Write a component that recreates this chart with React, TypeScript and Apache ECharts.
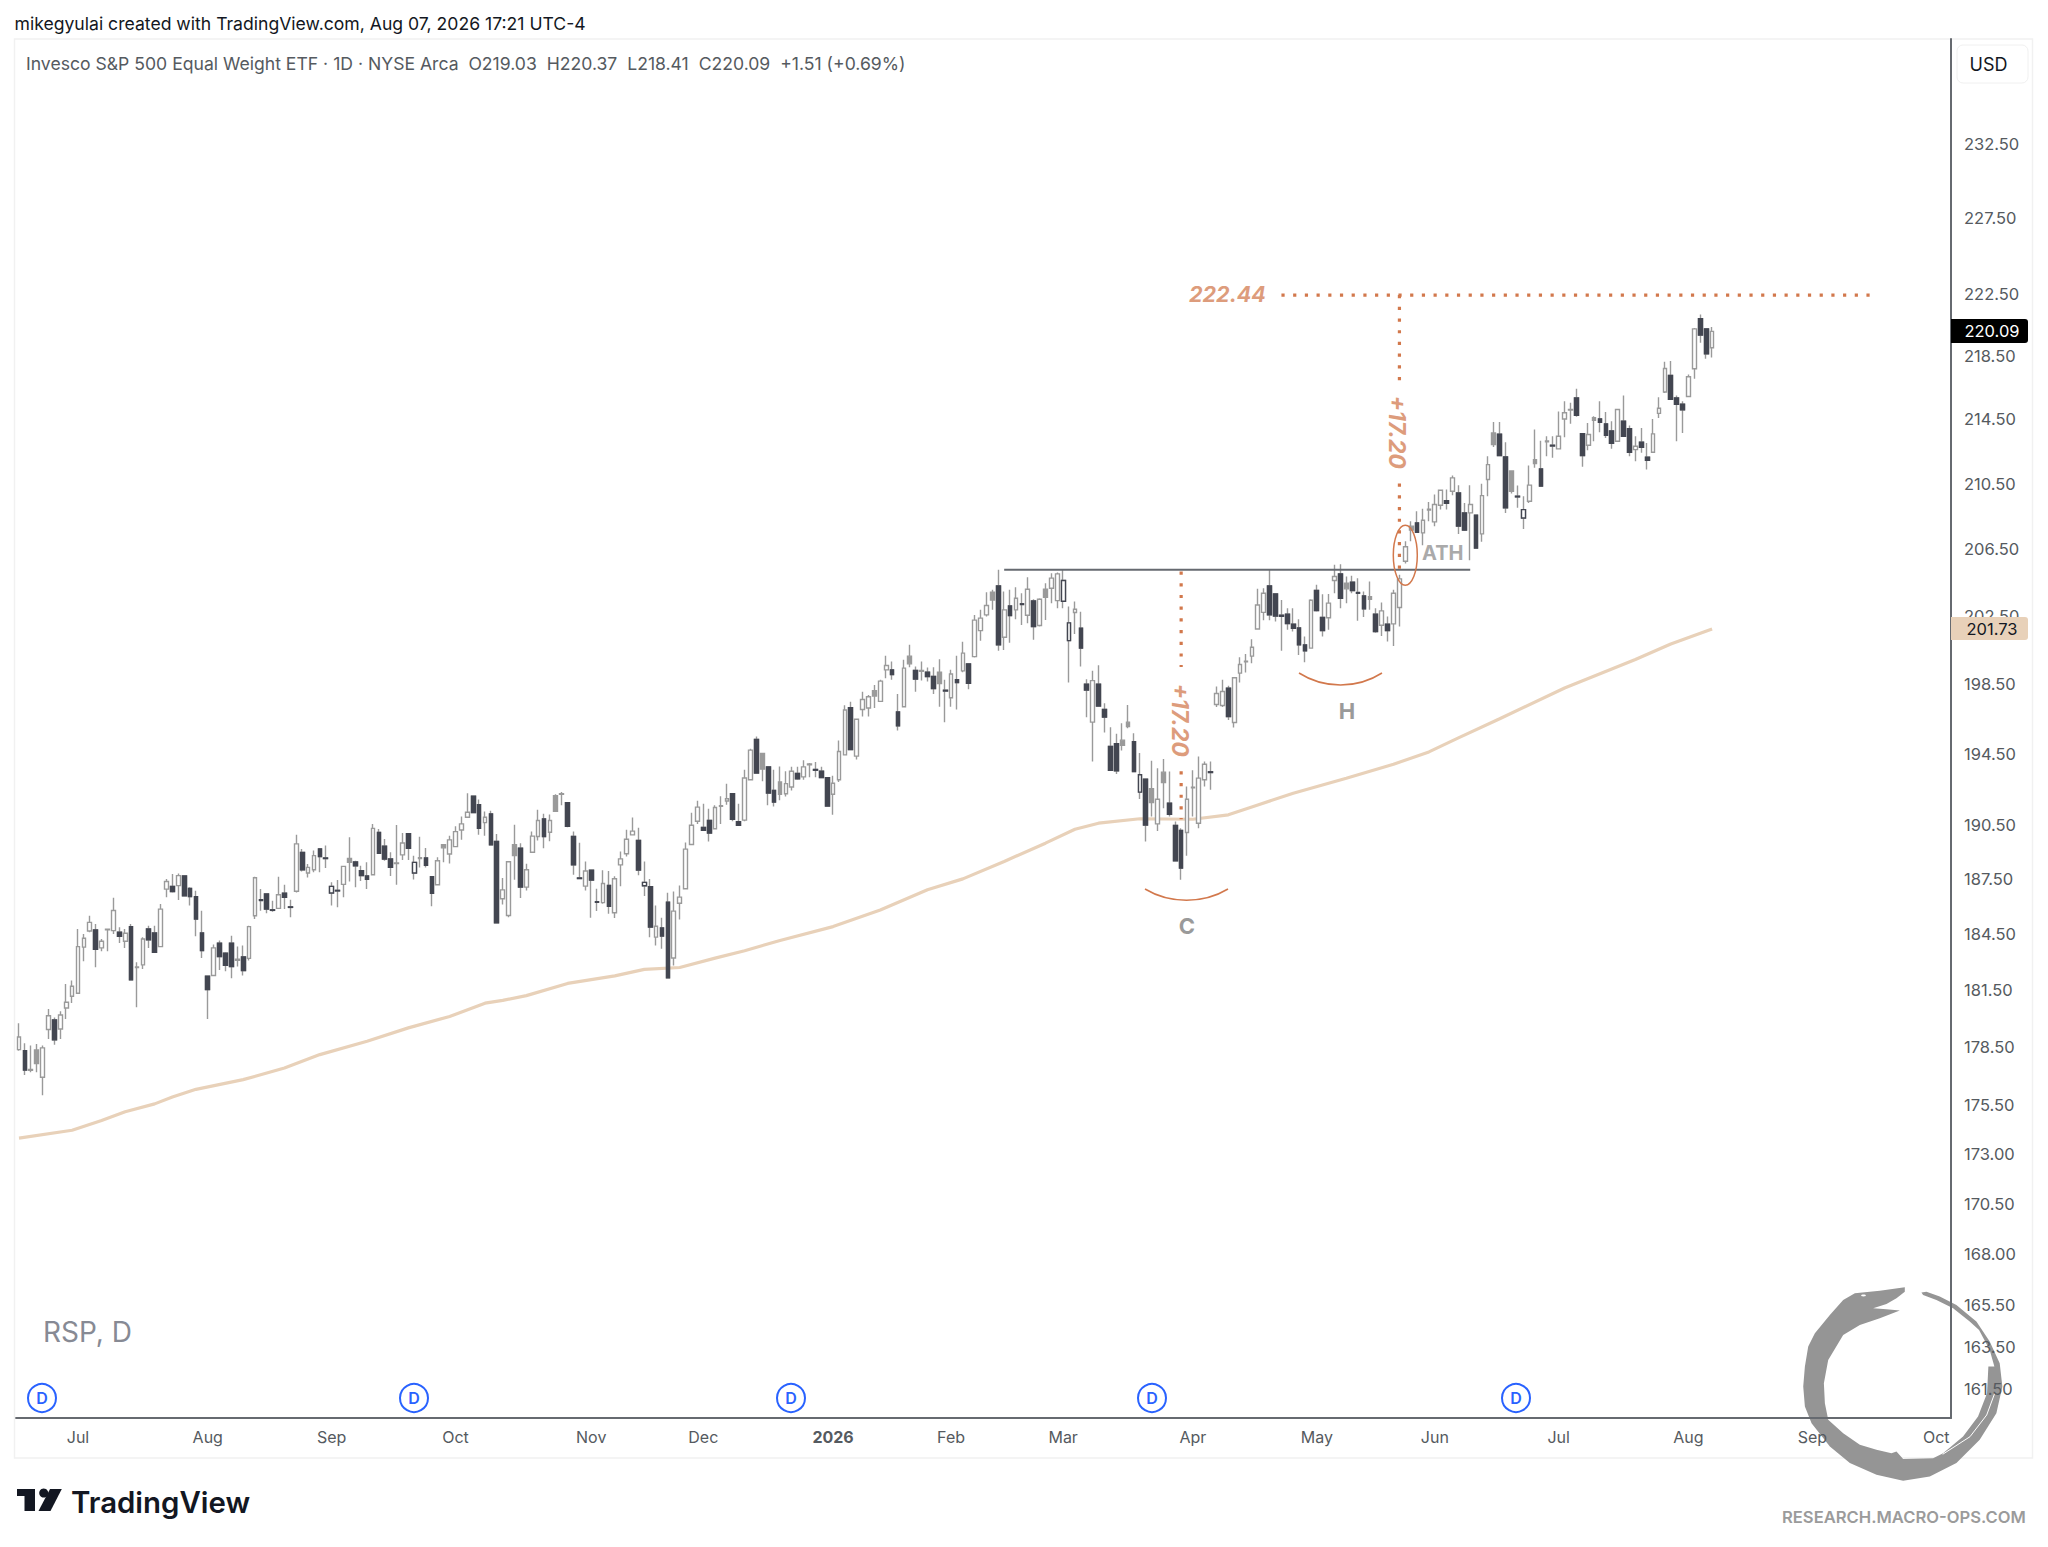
import React, { useEffect, useRef } from "react";
import * as echarts from "echarts";

// [open, high, low, close]
const quotesSummer2025 = [
[178.36,179.74,178.30,179.02],[178.30,178.69,177.04,177.30],[177.29,178.57,177.18,177.33],[178.34,178.66,177.18,177.64],[176.92,178.57,176.00,178.45],[179.41,180.49,178.92,180.14],[179.91,180.05,178.62,178.87],[179.44,180.37,178.92,180.18],[180.55,181.82,179.97,180.85],[181.17,182.00,180.81,181.70],[181.33,184.77,181.29,183.82],[183.79,184.50,183.03,184.27],
[184.66,185.49,184.59,185.13],[184.72,185.04,182.71,183.68],[183.75,184.23,183.57,184.11],[184.72,184.77,183.57,184.76],[184.68,186.47,184.50,185.77],[184.59,184.86,184.02,184.38],[184.11,184.77,183.75,184.54],[184.90,185.04,182.00,182.04],[182.70,182.98,180.59,182.73],[182.84,184.32,182.62,184.23],[184.77,184.95,183.75,184.18],[184.55,184.95,183.52,183.52],
[183.82,186.13,183.79,185.85],[186.94,187.49,186.49,187.36],[187.09,187.77,186.76,186.80],[187.13,187.80,186.34,187.68],[187.66,187.66,186.53,186.58],[186.98,187.04,186.04,186.53],[186.53,186.85,184.38,185.31],[184.55,185.76,183.21,183.61],[182.23,182.27,179.97,181.52],[182.27,183.93,182.23,183.75],[184.00,184.15,182.57,183.28],[183.46,183.52,182.50,182.82],
[184.00,184.41,182.13,182.75],[183.15,183.82,182.75,183.08],[183.27,183.88,182.27,182.54],[183.19,184.95,183.07,184.90],[185.49,187.62,185.31,187.56],[186.36,186.94,185.76,186.32],[186.67,186.71,185.62,185.85],[185.81,186.31,185.71,185.78],[185.89,187.62,185.85,186.63],[186.71,187.18,185.85,186.49],[185.97,186.36,185.40,185.94],[186.82,189.94,186.76,189.43],
[188.96,189.15,187.91,188.00],[187.82,188.32,187.58,188.13],[188.00,189.06,187.86,188.78],[189.15,189.20,187.86,188.73],[188.65,189.34,188.10,188.62],[186.73,187.31,186.04,187.09],[186.87,187.44,185.95,186.84],[187.20,188.22,186.49,188.19],[188.63,189.80,187.35,188.41],[188.43,188.50,187.04,188.22],[187.95,188.22,187.38,187.68],[187.66,188.41,186.94,187.47],
[187.73,190.54,187.68,190.29],[190.07,190.26,188.87,188.91],[189.30,189.70,188.50,188.59],[188.59,188.96,187.66,188.13],[188.34,190.48,187.18,188.37],[188.82,190.04,188.54,189.48],[190.00,190.00,188.54,189.19],[187.82,188.78,187.47,188.41],[188.66,189.83,188.13,188.62],[188.65,189.20,188.13,188.24],[187.62,187.62,186.00,186.71],[187.18,188.69,187.13,188.50],
];
const quotesAutumn2025 = [
[189.38,189.43,188.41,189.21],[188.87,189.88,188.35,189.65],[189.28,190.41,189.24,190.11],[190.20,190.95,189.66,190.54],[190.91,192.26,190.91,191.19],[192.09,192.13,191.13,191.17],[191.62,191.90,189.94,190.29],[190.61,191.24,189.88,190.91],[191.10,191.28,189.34,189.38],[189.56,189.98,185.08,185.10],[186.41,187.55,186.10,186.90],[185.50,188.44,185.41,188.44],
[189.38,190.49,187.45,188.79],[189.19,189.47,186.45,187.05],[187.05,188.33,186.87,188.00],[188.97,190.12,188.97,189.86],[189.84,191.33,189.62,190.73],[190.82,191.11,189.19,189.84],[190.08,191.07,189.58,190.73],[192.12,192.20,191.20,191.24],[192.20,192.33,191.58,192.24],[191.73,191.73,190.35,190.41],[189.84,190.12,187.72,188.28],[187.55,189.49,187.50,187.52],
[187.10,188.46,186.87,187.93],[187.97,187.97,185.38,187.43],[186.25,186.96,185.74,186.22],[186.20,187.97,186.14,187.25],[187.14,187.93,185.60,186.00],[185.65,187.64,185.36,187.51],[188.27,189.01,187.09,188.60],[188.88,190.21,188.73,189.69],[189.93,190.90,189.89,190.14],[189.62,190.32,187.70,187.99],[187.12,188.46,186.56,187.31],[187.07,187.49,184.33,184.87],
[184.33,186.05,183.88,184.92],[184.83,185.38,183.71,184.39],[186.23,186.74,182.13,182.15],[183.21,186.81,182.81,185.74],[186.17,187.14,185.29,186.50],[186.96,189.51,186.92,189.14],[189.40,191.16,189.36,190.47],[190.69,191.84,190.54,191.48],[190.34,191.67,190.16,190.19],[190.73,191.39,189.56,190.03],[190.27,191.58,190.23,191.46],[191.52,192.09,190.54,191.56],
[191.82,192.80,191.61,191.95],[192.23,192.23,190.69,190.80],[190.67,191.67,190.43,190.47],[190.75,193.59,190.69,193.12],[193.02,194.78,192.99,194.70],[195.31,195.48,193.36,193.40],[194.51,194.55,192.93,193.62],[193.75,193.75,191.58,192.27],[192.42,193.59,191.52,191.76],[192.89,193.77,191.86,192.20],[192.23,193.50,192.08,192.80],[192.61,193.75,192.42,193.50],
[193.37,193.75,193.02,193.08],[193.18,194.12,193.02,193.75],[193.87,193.97,193.16,193.91],[193.60,194.03,193.16,193.56],[193.50,193.75,193.12,193.14],[193.14,193.16,191.52,191.54],[192.20,193.24,191.05,192.82],[193.02,195.25,192.89,194.62],[194.43,197.27,194.40,197.00],[197.14,197.48,194.70,194.74],[194.36,196.50,194.17,196.47],[197.03,198.06,196.62,197.61],
];
const quotesWinter2026 = [
[197.12,197.87,196.62,197.77],[198.12,198.45,197.12,197.81],[197.50,198.75,197.48,198.67],[199.33,200.15,198.84,199.58],[199.33,199.82,198.75,199.06],[196.89,197.93,195.82,196.09],[197.19,199.92,197.14,199.43],[200.13,200.80,199.48,199.68],[199.29,199.53,198.06,198.79],[199.25,199.82,198.71,199.29],[199.19,199.47,198.65,198.94],[198.94,199.48,197.93,198.24],
[199.19,199.95,197.19,198.53],[198.14,198.75,196.30,198.10],[197.71,199.33,197.19,199.09],[198.75,200.15,197.03,198.59],[199.27,200.98,199.19,200.31],[199.68,199.68,198.20,198.55],[200.10,202.55,200.05,202.25],[201.63,202.86,201.04,202.37],[202.56,203.91,202.46,203.12],[203.91,204.05,202.86,203.45],[204.29,205.25,200.45,200.79],[201.24,203.95,200.49,202.86],
[203.09,204.05,200.92,202.52],[202.86,204.21,202.31,203.55],[203.22,203.85,201.97,203.18],[202.54,204.81,202.07,204.09],[203.39,203.49,201.09,201.87],[201.93,203.55,201.87,203.49],[204.09,204.45,202.26,203.61],[204.15,205.05,203.26,204.75],[203.41,205.09,202.96,205.01],[203.37,205.25,202.96,204.61],[201.04,203.06,198.59,202.09],[202.70,203.35,201.43,202.90],
[201.77,202.75,199.52,200.60],[198.49,198.78,196.59,198.16],[196.30,199.27,194.06,198.70],[198.49,199.60,197.23,197.23],[197.03,197.39,195.71,196.59],[194.91,196.01,193.55,193.55],[195.06,195.63,193.34,193.53],[195.27,196.24,194.68,194.97],[196.30,197.29,195.95,196.05],[195.18,195.67,193.49,193.49],[192.32,194.53,191.94,193.30],[193.05,193.05,189.56,190.48],
[192.51,194.09,190.95,191.73],[190.54,193.67,190.15,191.92],[193.45,194.19,191.41,192.86],[191.70,193.49,190.95,191.08],[190.45,190.67,188.46,188.49],[190.17,190.30,187.45,188.09],[190.06,192.64,188.77,191.92],[192.56,193.55,190.95,192.60],[190.58,194.34,190.30,193.11],[193.02,194.05,192.64,193.90],[193.47,194.05,192.45,193.43],[197.32,198.36,197.18,197.95],
[197.26,198.75,197.18,198.07],[198.26,198.40,196.43,196.63],[196.28,198.91,195.99,198.87],[199.14,200.07,198.59,199.64],[199.80,200.26,199.17,199.84],[200.13,201.12,199.71,200.65],[201.73,204.11,201.73,203.15],[202.71,204.15,202.25,203.85],[204.29,205.25,202.25,202.56],[203.81,203.81,202.17,202.50],[202.54,203.45,200.45,202.48],[202.60,202.96,201.68,202.05],
];
const quotesSpring2026 = [
[202.01,202.96,201.58,201.77],[201.79,202.31,200.20,200.79],[200.79,201.28,199.77,200.45],[200.60,203.49,200.56,203.43],[204.01,204.35,202.76,202.82],[202.41,203.79,201.28,201.63],[202.39,203.81,201.68,203.26],[204.61,205.55,203.85,204.85],[205.01,205.59,202.96,203.55],[204.45,204.85,203.26,204.11],[204.51,204.89,203.85,204.01],[203.89,204.75,202.22,203.85],
[203.69,203.95,202.44,202.92],[203.65,204.55,202.86,203.49],[202.60,202.96,201.51,201.58],[201.95,203.30,201.32,202.80],[202.01,202.46,200.99,201.63],[202.03,204.05,200.73,203.85],[203.00,204.95,201.87,204.71],[205.77,206.98,205.63,206.64],[207.89,208.19,206.98,207.65],[208.09,208.80,207.48,207.52],[207.48,208.95,206.74,208.25],[208.88,209.37,208.19,208.92],
[208.15,209.82,207.89,209.21],[209.17,210.13,208.90,210.09],[209.45,210.13,208.90,209.29],[210.03,210.99,209.78,210.85],[209.92,210.40,207.42,207.89],[208.70,209.31,207.59,207.65],[208.70,210.40,205.83,209.21],[208.56,208.56,206.53,206.57],[207.42,210.48,206.94,209.76],[210.75,212.19,209.72,211.67],[213.64,214.33,212.77,212.92],[213.56,214.33,212.19,212.23],
[212.15,213.06,208.70,209.01],[211.28,211.32,209.88,210.03],[209.72,210.38,209.01,209.68],[208.39,209.72,207.72,208.90],[209.41,211.61,209.31,210.40],[211.98,213.85,211.47,211.73],[211.40,213.15,210.34,210.34],[213.08,213.43,212.19,213.14],[212.87,213.43,212.09,212.83],[212.65,214.99,212.61,213.43],[214.51,215.63,213.37,214.91],[215.07,215.53,214.21,215.11],
[215.84,216.43,214.65,214.75],[213.60,213.64,211.53,212.23],[212.87,214.27,212.56,213.54],[214.60,214.69,213.12,214.43],[214.52,215.63,213.68,214.31],[214.21,214.95,213.33,213.50],[213.77,214.37,212.65,213.00],[213.12,215.15,213.08,215.11],[214.37,216.00,213.39,213.43],[213.91,214.10,212.19,212.44],[212.60,213.43,211.88,212.81],[213.06,213.95,212.40,212.75],
[212.13,213.02,211.36,211.94],[212.44,214.52,212.40,213.58],[214.87,215.89,214.58,215.19],[216.22,218.14,216.16,217.71],[217.27,218.18,215.74,215.76],[215.84,215.99,213.12,215.44],[215.44,215.63,213.64,215.09],[215.93,217.33,215.88,217.18],[217.69,220.30,217.05,220.25],[220.90,221.18,219.36,219.85],[220.25,220.25,218.33,218.65],[219.03,220.37,218.41,220.09],
];

// 200-day average, read at these bar positions
const maBars = [0,9,14,18,23,26,30,38,45,51,59,66,73,79,82,86,93,101,106,112,118,123,129,138,146,154,160,167,174,179,183,190,199,205,210,216,225,233,239,244,251,262,274,280,287];
const maValues = [173.8,174.2,174.7,175.15,175.55,175.9,176.3,176.8,177.4,178.1,178.8,179.5,180.1,180.8,180.95,181.2,181.85,182.25,182.6,182.7,183.2,183.6,184.15,184.9,185.8,186.9,187.5,188.46,189.47,190.24,190.58,190.83,190.8,191.05,191.6,192.26,193.1,193.9,194.6,195.4,196.5,198.27,199.93,200.84,201.73];

const priceTicks = [232.5,227.5,222.5,218.5,214.5,210.5,206.5,202.5,198.5,194.5,190.5,187.5,184.5,181.5,178.5,175.5,173,170.5,168,165.5,163.5,161.5];
const monthBars = [10,32,53,74,97,116,138,158,177,199,220,240,261,283,304,325];
const monthNames = ["Jul","Aug","Sep","Oct","Nov","Dec","2026","Feb","Mar","Apr","May","Jun","Jul","Aug","Sep","Oct"];
const barSlots = 328;

const targetPrice = 222.44;
const neckline = 205.25;
const lastClose = 220.09;
const lastAverage = 201.73;

const FONT = "Inter, Roboto, sans-serif";
const ORANGE = "#d2784c";
const SOFT_ORANGE = "#dd9c7c";
const DARK = "#434651";
const GREY = "#9a9a9a";

const ringPoints = [[615,112],[540,122],[465,130],[430,150],[390,195],[345,250],[325,290],[315,350],[310,410],[315,470],[335,520],[390,590],[450,640],[530,675],[610,693],[690,680],[770,640],[840,570],[890,490],[908,410],[900,340],[870,275],[830,215],[770,165],[720,140],[680,125],[665,128],[670,135],[710,150],[760,175],[810,215],[838,240],[870,300],[884,350],[866,350],[862,430],[835,500],[790,560],[730,610],[700,625],[610,628],[590,605],[575,610],[530,600],[480,585],[430,550],[385,510],[375,460],[372,400],[385,330],[430,255],[480,225],[540,205],[600,182],[560,178],[520,175],[560,162],[590,145],[615,125]];
const ringPath = "M" + ringPoints.map((p) => p.join(" ")).join("L") + "Z";
echarts.graphic.registerShape("ouroboros", echarts.graphic.extendPath(ringPath, {}) as any);

function label(text: string, x: number, y: number, size: number, fill: string, extra: any = {}, el: any = {}) {
  return {
    type: "text", z: 30, x, y, ...el,
    style: { text, fontSize: size, fontFamily: FONT, fill, textAlign: "left", textVerticalAlign: "middle", ...extra },
  };
}

export default function App() {
  const ref = useRef<HTMLDivElement>(null);
  useEffect(() => {
    const chart = echarts.init(ref.current!, undefined, { renderer: "svg" });
    const quotes = [...quotesSummer2025, ...quotesAutumn2025, ...quotesWinter2026, ...quotesSpring2026];
    const categories = Array.from({ length: barSlots }, (_, i) => String(i));
    const isDown = (i: number) => i > 0 && quotes[i][3] < quotes[i - 1][3];

    const mainData = quotes.map(([o, h, l, c]) => {
      const fill = c < o ? GREY : "#ffffff";
      return { value: [o, c, l, h], itemStyle: { color: fill, color0: fill, borderColor: GREY, borderColor0: GREY } };
    });
    const darkData = quotes.map(([o, , , c], i) => {
      if (!isDown(i)) return "-";
      const fill = c < o ? DARK : "#ffffff";
      return {
        value: [o, c, Math.min(o, c), Math.max(o, c)],
        itemStyle: { color: fill, color0: fill, borderColor: DARK, borderColor0: DARK },
      };
    });

    const dotted = { color: ORANGE, width: 3.2, type: [3.2, 8.5] as any, cap: "butt" };
    const option: any = {
      animation: false,
      backgroundColor: "#ffffff",
      grid: { left: 16.05, right: 97, top: 39, bottom: 129, containLabel: false },
      xAxis: {
        type: "category",
        data: categories,
        boundaryGap: true,
        z: 5,
        axisLine: { show: true, lineStyle: { color: "#666a70", width: 2 } },
        axisTick: { show: false },
        splitLine: { show: false },
        axisLabel: {
          interval: (i: number) => monthBars.includes(i),
          formatter: (v: string) => {
            const name = monthNames[monthBars.indexOf(Number(v))] ?? "";
            return name === "2026" ? `{b|${name}}` : name;
          },
          rich: { b: { fontWeight: 700, fontSize: 16, fontFamily: FONT, color: "#555a60" } },
          color: "#555a60", fontSize: 16, fontFamily: FONT, margin: 11,
        },
      },
      yAxis: {
        type: "log",
        logBase: 10,
        min: 160.13,
        max: 239.75,
        position: "right",
        z: 5,
        axisLine: { show: true, onZero: false, lineStyle: { color: "#666a70", width: 2 } },
        axisTick: { show: false },
        splitLine: { show: false },
        minorTick: { show: false },
        axisLabel: {
          customValues: priceTicks,
          formatter: (v: number) => Number(v).toFixed(2),
          color: "#555a60", fontSize: 16.5, fontFamily: FONT, margin: 13, padding: [0, 0, 2, 0],
        },
      },
      series: [
        {
          name: "200-day average", type: "line", showSymbol: false, z: 1,
          data: maBars.map((b, i) => [b, maValues[i]]),
          lineStyle: { color: "#e8d1b9", width: 3.2 },
        },
        {
          name: "RSP", type: "candlestick", data: mainData, barWidth: 4.2, z: 2,
          itemStyle: { borderWidth: 1.4 },
        },
        {
          name: "RSP down days", type: "candlestick", data: darkData, barWidth: 4.2, z: 3,
          itemStyle: { borderWidth: 1.4 },
        },
        {
          name: "Neckline", type: "line", showSymbol: false, z: 4,
          data: [[167, neckline], [246, neckline]],
          lineStyle: { color: "#666a70", width: 2 },
        },
        {
          name: "Target", type: "line", showSymbol: false, z: 4,
          data: [[214, targetPrice], [314, targetPrice]],
          lineStyle: dotted,
        },
        {
          name: "Measured move upper", type: "line", showSymbol: false, z: 4, connectNulls: false,
          data: [[234, targetPrice], [234, 216.9], [234, null], [234, 210.5], [234, 205.3]],
          lineStyle: dotted,
        },
        {
          name: "Measured move lower", type: "line", showSymbol: false, z: 4, connectNulls: false,
          data: [[197, 205.15], [197, 199.5], [197, null], [197, 193.5], [197, 190.8]],
          lineStyle: dotted,
        },
      ],
      graphic: [
        { type: "rect", z: -1, shape: { x: 14.5, y: 39, width: 2018, height: 1419 }, style: { fill: "none", stroke: "#f1f1f1", lineWidth: 1.5 } },
        { type: "ouroboros", x: 1700, y: 1250, scaleX: 1 / 3, scaleY: 1 / 3, z: 1, style: { fill: "#959595" } },
        { type: "ellipse", z: 2, shape: { cx: 1863.5, cy: 1295.5, rx: 2.4, ry: 0.9 }, style: { fill: "#ffffff" } },
        { type: "polyline", z: 2, shape: { points: [[1994.7, 1393.3], [1986.7, 1415], [1970, 1436.7], [1942.7, 1454.3]] }, style: { stroke: "#ffffff", lineWidth: 1, fill: "none" } },
        label("mikegyulai created with TradingView.com, Aug 07, 2026 17:21 UTC-4", 14.5, 23, 17.6, "#131722"),
        label("Invesco S&P 500 Equal Weight ETF · 1D · NYSE Arca  O219.03  H220.37  L218.41  C220.09  +1.51 (+0.69%)", 26, 63, 17.6, "#555a60"),
        label("RSP, D", 43, 1332, 28, "#878a94"),
        ...[42, 414, 791, 1152, 1516].flatMap((x) => [
          { type: "circle", z: 20, shape: { cx: x, cy: 1398, r: 14 }, style: { fill: "#ffffff", stroke: "#2962ff", lineWidth: 2 } },
          label("D", x, 1398, 16, "#2962ff", { textAlign: "center", fontWeight: 600 }),
        ]),
        { type: "rect", z: 25, shape: { x: 1957, y: 45, width: 71, height: 38, r: 6 }, style: { fill: "#ffffff", stroke: "#f0f0f0", lineWidth: 1 } },
        label("USD", 1988.5, 64, 18, "#131722", { textAlign: "center" }),
        { type: "rect", z: 25, shape: { x: 1951, y: 319, width: 77, height: 24, r: [0, 3, 3, 0] }, style: { fill: "#000000" } },
        label(lastClose.toFixed(2), 1992, 331, 16.5, "#ffffff", { textAlign: "center" }),
        { type: "rect", z: 25, shape: { x: 1951, y: 617, width: 77, height: 23, r: [0, 3, 3, 0] }, style: { fill: "#e8d1b9" } },
        label(lastAverage.toFixed(2), 1992, 628.5, 16.5, "#131722", { textAlign: "center" }),
        label(targetPrice.toFixed(2), 1189, 294, 21.5, SOFT_ORANGE, { fontWeight: 700, fontStyle: "italic" }),
        label("+17.20", 1397, 432, 23, SOFT_ORANGE, { fontWeight: 700, fontStyle: "italic", textAlign: "center" }, { rotation: -Math.PI / 2 }),
        label("+17.20", 1180, 720, 23, SOFT_ORANGE, { fontWeight: 700, fontStyle: "italic", textAlign: "center" }, { rotation: -Math.PI / 2 }),
        label("ATH", 1422, 553, 20, "#aaaaaa", { fontWeight: 700 }),
        label("H", 1347, 711, 22, "#9a9a9a", { fontWeight: 700, textAlign: "center" }),
        label("C", 1187, 926, 22, "#9a9a9a", { fontWeight: 700, textAlign: "center" }),
        { type: "ellipse", z: 10, shape: { cx: 1405.3, cy: 555.3, rx: 12, ry: 30 }, style: { fill: "none", stroke: ORANGE, lineWidth: 1.5 } },
        { type: "bezierCurve", z: 10, shape: { x1: 1145, y1: 889, x2: 1228, y2: 889, cpx1: 1170, cpy1: 904, cpx2: 1203, cpy2: 904 }, style: { fill: "none", stroke: ORANGE, lineWidth: 1.5 } },
        { type: "bezierCurve", z: 10, shape: { x1: 1299, y1: 673, x2: 1382, y2: 673, cpx1: 1324, cpy1: 689, cpx2: 1357, cpy2: 689 }, style: { fill: "none", stroke: ORANGE, lineWidth: 1.5 } },
        { type: "rect", z: 10, shape: { x: 17, y: 1489, width: 18, height: 7 }, style: { fill: "#131722" } },
        { type: "rect", z: 10, shape: { x: 24.5, y: 1489, width: 10.5, height: 22 }, style: { fill: "#131722" } },
        { type: "circle", z: 10, shape: { cx: 43.7, cy: 1493, r: 4.5 }, style: { fill: "#131722" } },
        { type: "polygon", z: 10, shape: { points: [[50, 1489], [61.8, 1489], [50.5, 1511], [38.5, 1511]] }, style: { fill: "#131722" } },
        label("TradingView", 71, 1502, 29.4, "#131722", { fontWeight: 600 }),
        label("RESEARCH.MACRO-OPS.COM", 1782, 1517, 16.6, "#9b9b9b", { fontWeight: 600 }),
      ],
    };
    chart.setOption(option);
    return () => chart.dispose();
  }, []);
  return <div ref={ref} style={{ position: "fixed", left: 0, top: 0, width: 2048, height: 1547 }} />;
}
